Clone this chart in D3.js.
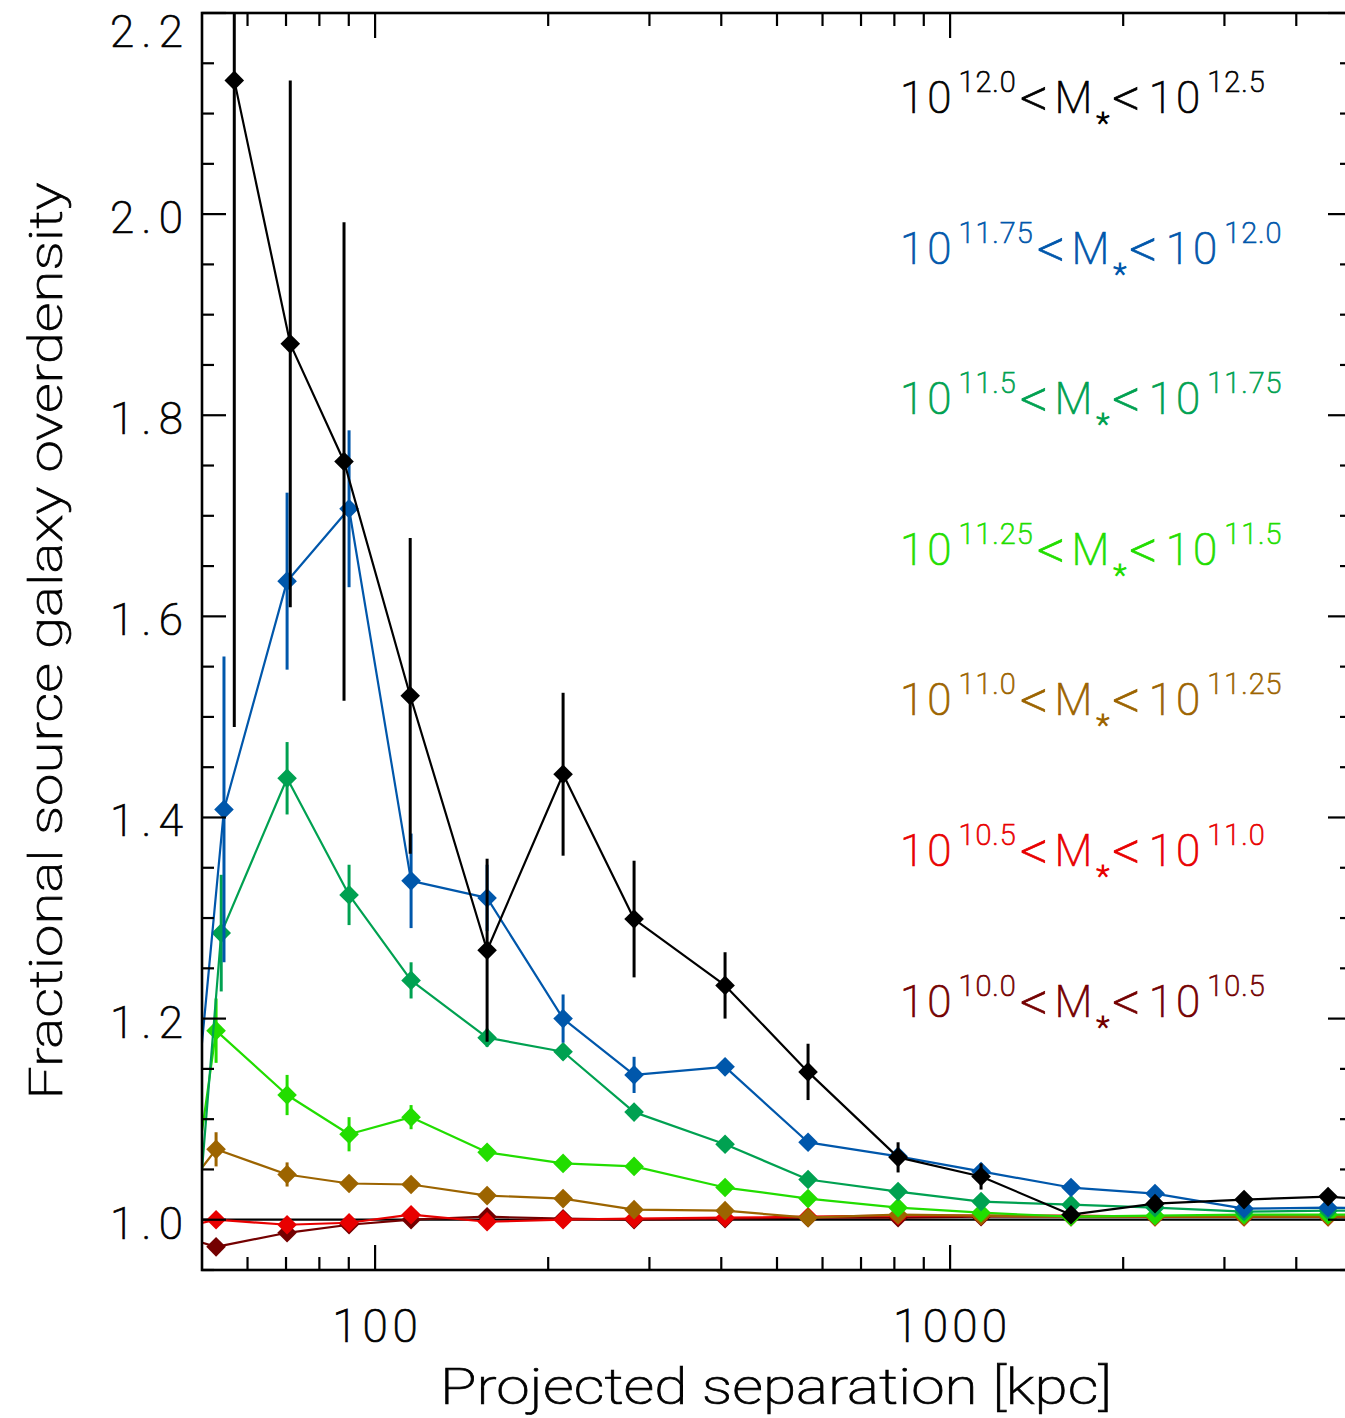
<!DOCTYPE html>
<html>
<head>
<meta charset="utf-8">
<script src="https://cdn.jsdelivr.net/npm/d3@7"></script>
<style>
  body { margin: 0; background: #fff; }
  svg { display: block; }
  text { font-family: Roboto, "Open Sans", "DejaVu Sans", sans-serif; font-weight: 200; stroke-width: 0.7px; }
</style>
</head>
<body>
<svg id="chart" width="1345" height="1418"></svg>
<script>
// ---- data -------------------------------------------------------------
// Shared outer separation bins (kpc); the last one lies beyond the plotted range
const sepOuter = [156.6, 212.3, 282.1, 406.1, 566.2, 812.0, 1132, 1623, 2272, 3245, 4543, 6480];
// Inner bins differ slightly between mass bins; 40 kpc lies below the plotted range
const sepInner_12_0  = [56.9, 71.2, 88.3, 115.1];
const sepInner_11_75 = [40, 54.6, 70.3, 90.1, 115.5];
const sepInner_11_5  = [40, 54.0, 70.3, 90.1, 115.5];
const sepInner_low   = [40, 52.9, 70.3, 90.1, 115.5];

// Fractional overdensity and 1-sigma errors for each stellar-mass bin
const od_12_0  = [2.133, 1.871, 1.754, 1.521, 1.268, 1.443, 1.299, 1.233, 1.147, 1.062, 1.043, 1.005, 1.016, 1.020, 1.023, 1.016];
const err_12_0 = [0.643, 0.262, 0.238, 0.157, 0.091, 0.081, 0.058, 0.033, 0.028, 0.015, 0.013, 0.006, 0.005, 0.005, 0.005, 0.005];

const od_11_75  = [0.588, 1.408, 1.635, 1.707, 1.337, 1.320, 1.200, 1.144, 1.152, 1.077, 1.063, 1.048, 1.032, 1.026, 1.011, 1.012, 1.011];
const err_11_75 = [0.150, 0.152, 0.088, 0.078, 0.047, 0.033, 0.024, 0.018, 0.008, 0.006, 0.005, 0.004, 0.004, 0.003, 0.003, 0.003, 0.003];

const od_11_5  = [0.368, 1.285, 1.439, 1.323, 1.238, 1.181, 1.167, 1.107, 1.075, 1.040, 1.028, 1.018, 1.015, 1.012, 1.008, 1.009, 1.009];
const err_11_5 = [0.060, 0.058, 0.036, 0.030, 0.018, 0.009, 0.008, 0.006, 0.005, 0.004, 0.003, 0.003, 0.002, 0.002, 0.002, 0.002, 0.002];

const od_11_25  = [0.692, 1.188, 1.124, 1.085, 1.102, 1.067, 1.056, 1.053, 1.032, 1.021, 1.012, 1.007, 1.003, 1.004, 1.005, 1.005, 1.005];
const err_11_25 = [0.030, 0.032, 0.020, 0.017, 0.012, 0.005, 0.005, 0.004, 0.003, 0.003, 0.002, 0.002, 0.002, 0.002, 0.002, 0.002, 0.002];

const od_11_0  = [0.980, 1.070, 1.045, 1.036, 1.035, 1.024, 1.021, 1.010, 1.009, 1.002, 1.005, 1.004, 1.003, 1.003, 1.003, 1.003, 1.003];
const err_11_0 = [0.017, 0.017, 0.012, 0.006, 0.005, 0.004, 0.003, 0.003, 0.002, 0.002, 0.002, 0.002, 0.002, 0.002, 0.002, 0.002, 0.002];

const od_10_5  = [0.985, 1.000, 0.995, 0.997, 1.005, 0.998, 1.000, 1.001, 1.002, 1.003, 1.004, 1.004, 1.004, 1.003, 1.003, 1.003, 1.003];
const err_10_5 = [0.003, 0.003, 0.003, 0.003, 0.003, 0.002, 0.002, 0.002, 0.002, 0.002, 0.002, 0.002, 0.002, 0.002, 0.002, 0.002, 0.002];

const od_10_0  = [0.994, 0.973, 0.987, 0.995, 1.000, 1.003, 1.001, 1.000, 1.001, 1.002, 1.002, 1.003, 1.003, 1.003, 1.003, 1.003, 1.003];
const err_10_0 = [0.003, 0.003, 0.003, 0.003, 0.003, 0.002, 0.002, 0.002, 0.002, 0.002, 0.002, 0.002, 0.002, 0.002, 0.002, 0.002, 0.002];

// Mass-bin edges (log M*) and colours, highest mass first
const massLow  = ["12.0", "11.75", "11.5", "11.25", "11.0", "10.5", "10.0"];
const massHigh = ["12.5", "12.0", "11.75", "11.5", "11.25", "11.0", "10.5"];
const colors   = ["#000000", "#0057ab", "#00a151", "#22dd00", "#9c6400", "#e80000", "#740000"];

// Axis ticks
const yMajorTicks = [1.0, 1.2, 1.4, 1.6, 1.8, 2.0, 2.2];
const xMajorTicks = [100, 1000];
const xTickLabels = ["100", "1000"];

// ---- assemble series ---------------------------------------------------
const seps = [
  sepInner_12_0.concat(sepOuter),
  sepInner_11_75.concat(sepOuter),
  sepInner_11_5.concat(sepOuter),
  sepInner_low.concat(sepOuter),
  sepInner_low.concat(sepOuter),
  sepInner_low.concat(sepOuter),
  sepInner_low.concat(sepOuter)
];
const ods  = [od_12_0, od_11_75, od_11_5, od_11_25, od_11_0, od_10_5, od_10_0];
const errs = [err_12_0, err_11_75, err_11_5, err_11_25, err_11_0, err_10_5, err_10_0];
const series = massLow.map((lo, i) => ({
  lo, hi: massHigh[i], color: colors[i],
  pts: seps[i].map((s, j) => ({ s, v: ods[i][j], e: errs[i][j] }))
}));

// ---- layout -------------------------------------------------------------
const svg = d3.select("#chart");
const L = 202, R = 1352, T = 13, B = 1270;
const x = d3.scaleLog().domain([50, 5000]).range([L, R]);
const y = d3.scaleLinear().domain([0.95, 2.2]).range([B, T]);

svg.append("defs").append("clipPath").attr("id", "plotArea")
  .append("rect").attr("x", L).attr("y", T).attr("width", R - L).attr("height", B - T);

const plot = svg.append("g").attr("clip-path", "url(#plotArea)");

// Unity reference line
plot.append("line")
  .attr("x1", L).attr("x2", R).attr("y1", y(1)).attr("y2", y(1))
  .attr("stroke", "#000").attr("stroke-width", 2.2);

const line = d3.line().x(d => x(d.s)).y(d => y(d.v));
const diamond = "M0,-9.8L9.8,0L0,9.8L-9.8,0Z";

// Draw from the lowest mass bin up so the massive bins sit on top
series.slice().reverse().forEach(sr => {
  const g = plot.append("g");
  g.append("path").datum(sr.pts).attr("d", line)
    .attr("fill", "none").attr("stroke", sr.color).attr("stroke-width", 2.2)
    .attr("stroke-linejoin", "round");
  g.selectAll("line.err").data(sr.pts).join("line").attr("class", "err")
    .attr("x1", d => x(d.s)).attr("x2", d => x(d.s))
    .attr("y1", d => y(d.v - d.e)).attr("y2", d => y(d.v + d.e))
    .attr("stroke", sr.color).attr("stroke-width", 3);
  g.selectAll("path.pt").data(sr.pts).join("path").attr("class", "pt")
    .attr("d", diamond)
    .attr("transform", d => `translate(${x(d.s)},${y(d.v)})`)
    .attr("fill", sr.color);
});

// ---- frame and ticks -----------------------------------------------------
const axes = svg.append("g").attr("stroke", "#000");
axes.append("rect").attr("x", L).attr("y", T).attr("width", R - L).attr("height", B - T)
  .attr("fill", "none").attr("stroke-width", 2.6);

const yMinor = d3.range(0.95, 2.2001, 0.05).map(v => +v.toFixed(2));
yMinor.forEach(v => {
  const major = yMajorTicks.some(t => Math.abs(t - v) < 1e-6);
  const len = major ? 24 : 12;
  axes.append("line").attr("x1", L).attr("x2", L + len).attr("y1", y(v)).attr("y2", y(v)).attr("stroke-width", 2.2);
  axes.append("line").attr("x1", R).attr("x2", R - len).attr("y1", y(v)).attr("y2", y(v)).attr("stroke-width", 2.2);
});

const xAll = [];
[10, 100, 1000].forEach(dec => { for (let k = 1; k <= 9; k++) xAll.push(dec * k); });
xAll.filter(v => v > 50 && v <= 5000).forEach(v => {
  const major = xMajorTicks.includes(v);
  const len = major ? 25 : 13;
  axes.append("line").attr("x1", x(v)).attr("x2", x(v)).attr("y1", B).attr("y2", B - len).attr("stroke-width", 2.2);
  axes.append("line").attr("x1", x(v)).attr("x2", x(v)).attr("y1", T).attr("y2", T + len).attr("stroke-width", 2.2);
});

// ---- tick labels -----------------------------------------------------------
const labels = svg.append("g").attr("fill", "#000").attr("stroke", "#000");
yMajorTicks.forEach(t => {
  labels.append("text")
    .attr("x", 183).attr("y", Math.max(y(t) + 19, T + 34))
    .attr("text-anchor", "end").attr("font-size", 44)
    .attr("textLength", 73).attr("lengthAdjust", "spacing")
    .text(t.toFixed(1));
});
xMajorTicks.forEach((t, i) => {
  labels.append("text")
    .attr("x", x(t)).attr("y", 1342)
    .attr("text-anchor", "middle").attr("font-size", 46)
    .attr("textLength", xTickLabels[i].length * 28.5).attr("lengthAdjust", "spacing")
    .text(xTickLabels[i]);
});

// Axis titles
labels.append("text")
  .attr("x", 776).attr("y", 1404).attr("text-anchor", "middle")
  .attr("font-size", 50).attr("textLength", 672).attr("lengthAdjust", "spacingAndGlyphs")
  .text("Projected separation [kpc]");
labels.append("text")
  .attr("transform", "translate(62,641) rotate(-90)").attr("text-anchor", "middle")
  .attr("font-size", 46).attr("textLength", 917).attr("lengthAdjust", "spacingAndGlyphs")
  .text("Fractional source galaxy overdensity");

// ---- mass-bin key -----------------------------------------------------------
const keyTop = 113, keyStep = 150.6;
series.forEach((sr, i) => {
  const t = svg.append("text").attr("x", 900).attr("y", keyTop + i * keyStep)
    .attr("fill", sr.color).attr("stroke", sr.color).attr("font-size", 44);
  t.append("tspan").attr("letter-spacing", 3).text("10");
  t.append("tspan").attr("font-size", 29).attr("dy", -21).attr("dx", 4).attr("letter-spacing", 1).text(sr.lo);
  t.append("tspan").attr("font-size", 56).attr("dy", 25).attr("dx", 3).text("<");
  t.append("tspan").attr("dy", -4).attr("dx", 6).text("M");
  t.append("tspan").attr("font-size", 30).attr("dy", 20).attr("dx", 4).attr("stroke-width", 1.2).text("*");
  t.append("tspan").attr("font-size", 56).attr("dy", -16).attr("dx", 3).text("<");
  t.append("tspan").attr("dy", -4).attr("dx", 8).attr("letter-spacing", 3).text("10");
  t.append("tspan").attr("font-size", 29).attr("dy", -21).attr("dx", 4).attr("letter-spacing", 1).text(sr.hi);
});
</script>
</body>
</html>
